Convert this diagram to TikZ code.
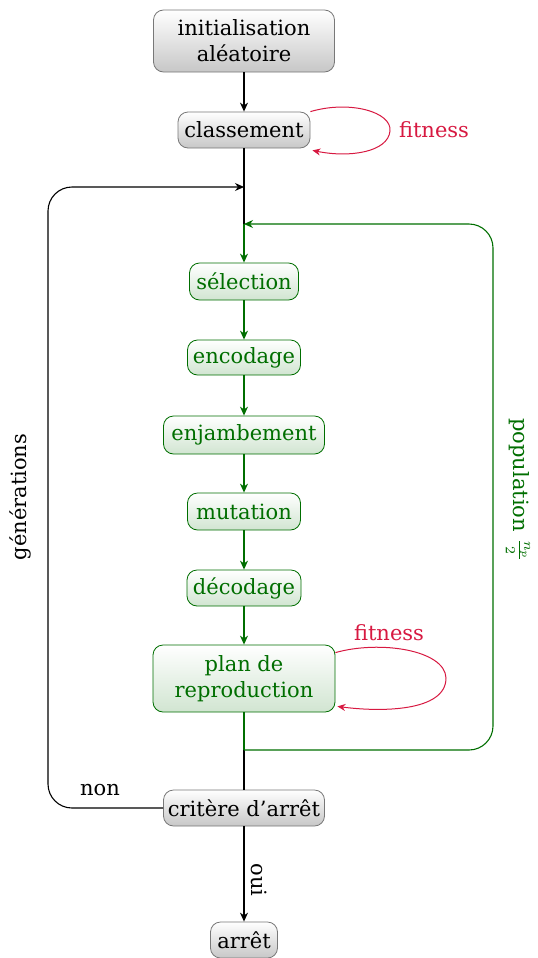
\documentclass[tikz,border=0pt]{standalone}
\usepackage{fontspec}
\setmainfont{DejaVu Serif}
\usetikzlibrary{arrows.meta,shadings}
\definecolor{dgreen}{RGB}{0,110,0}
\definecolor{crimsonred}{RGB}{215,25,65}
\definecolor{boxgray}{RGB}{120,120,120}
\begin{document}
\begin{tikzpicture}[x=0.5pt,y=-0.5pt,
  font=\fontsize{10.5}{13}\selectfont,
  graybox/.style={draw=boxgray, rounded corners=5pt, top color=white, bottom color=black!22,
    align=center, inner sep=0pt, line width=0.4pt},
  greenbox/.style={draw=dgreen, text=dgreen, rounded corners=5pt, top color=white, bottom color=dgreen!18,
    align=center, inner sep=0pt, line width=0.4pt},
  arr/.style={-{Stealth[length=4.5pt,width=4pt]}, line width=0.55pt},
  garr/.style={arr, draw=dgreen},
  loop/.style={crimsonred, line width=0.5pt, -{Stealth[length=4pt,width=3.5pt]}},
]
\useasboundingbox (0,0) rectangle (537,958);

% main nodes, all centred on one vertical axis
\node[graybox, minimum width=90.5pt, minimum height=31pt] (init) at (244,41) {initialisation\\aléatoire};
\node[graybox, minimum width=66pt, minimum height=18pt] (classe) at (244,130) {classement};
\node[greenbox, minimum width=54.5pt, minimum height=18.5pt] (sel) at (244,281.5) {sélection};
\node[greenbox, minimum width=56.5pt, minimum height=17.5pt] (enc) at (244,357.5) {encodage};
\node[greenbox, minimum width=80.5pt, minimum height=19pt] (enj) at (244,435) {enjambement};
\node[greenbox, minimum width=56.5pt, minimum height=18.5pt] (mut) at (244,511.5) {mutation};
\node[greenbox, minimum width=57pt, minimum height=18pt] (dec) at (244,588) {décodage};
\node[greenbox, minimum width=91pt, minimum height=33.5pt] (plan) at (244,678.5) {plan de\\reproduction};
\node[graybox, minimum width=80.5pt, minimum height=18pt] (crit) at (244,808) {critère d’arrêt};
\node[graybox, minimum width=33.5pt, minimum height=18pt] (stop) at (244,940) {arrêt};

% junction points on the main line
\coordinate (jgen) at (244,187);
\coordinate (jpop) at (244,224);
\coordinate (jout) at (244,750);

% main flow
\draw[arr] (init) -- (classe);
\draw[line width=0.55pt] (classe) -- (jgen);
\draw[line width=0.55pt] (jgen) -- (jpop);
\draw[garr] (jpop) -- (sel);
\draw[garr] (sel) -- (enc);
\draw[garr] (enc) -- (enj);
\draw[garr] (enj) -- (mut);
\draw[garr] (mut) -- (dec);
\draw[garr] (dec) -- (plan);
\draw[dgreen, line width=0.55pt] (plan) -- (jout);
\draw[line width=0.55pt] (jout) -- (crit);
\draw[arr] (crit) -- node[rotate=-90, anchor=south, xshift=3pt] {oui} (stop);

% generation loop
\draw[arr, rounded corners=12pt] (crit.west) -- (48,808) -- (48,187) -- (jgen);
\node (non) at (100,790) {non};
\node[rotate=90] (gen) at (20,497) {générations};

% population loop
\draw[garr, rounded corners=12pt] (jout) -- (493,750) -- (493,224) -- (jpop);
\node[rotate=-90, text=dgreen] (pop) at (518,490) {population $\frac{n_p}{2}$};

% fitness evaluations
\draw[loop] (classe.north east) .. controls (350,100) and (392,112) .. (390,131)
  .. controls (388,152) and (350,158) .. ([xshift=1pt,yshift=-1pt]classe.south east);
\node[text=crimsonred] (fit1) at (434,130) {fitness};
\draw[loop] ([yshift=-4pt]plan.north east) .. controls (380,640) and (445,650) .. (446,678)
  .. controls (446,712) and (380,712) .. ([xshift=1pt,yshift=3pt]plan.south east);
\node[text=crimsonred] (fit2) at (389,633) {fitness};
\end{tikzpicture}
\end{document}
